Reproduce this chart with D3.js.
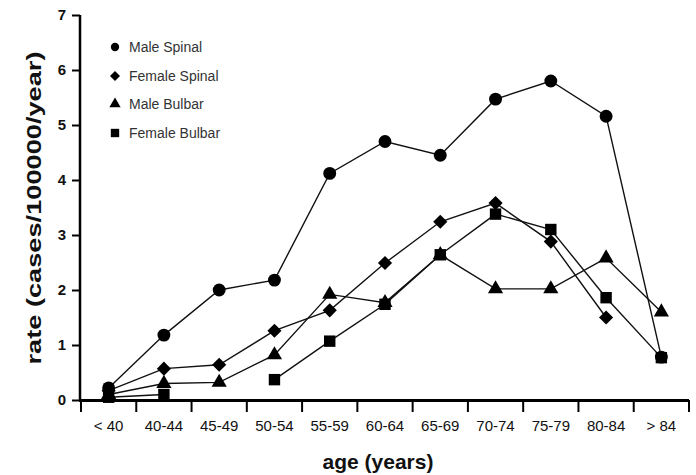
<!DOCTYPE html>
<html>
<head>
<meta charset="utf-8">
<script src="https://cdn.jsdelivr.net/npm/d3@7"></script>
<style>
  html, body { margin: 0; padding: 0; background: #fff; }
  svg { display: block; }
</style>
</head>
<body>
<svg id="chart" width="696" height="475"></svg>
<script>
const categories = ["< 40", "40-44", "45-49", "50-54", "55-59", "60-64", "65-69", "70-74", "75-79", "80-84", "> 84"];
const maleSpinal   = [0.22, 1.18, 2.0, 2.18, 4.12, 4.7, 4.45, 5.47, 5.8, 5.16, 0.78];
const femaleSpinal = [0.17, 0.57, 0.64, 1.26, 1.63, 2.49, 3.24, 3.58, 2.88, 1.5, null];
const maleBulbar   = [0.1, 0.3, 0.32, 0.82, 1.92, 1.77, 2.64, 2.02, 2.02, 2.58, 1.6];
const femaleBulbar = [0.05, 0.1, null, 0.37, 1.07, 1.74, 2.64, 3.38, 3.1, 1.86, 0.77];
const yTicks = [0, 1, 2, 3, 4, 5, 6, 7];
const seriesNames = ["Male Spinal", "Female Spinal", "Male Bulbar", "Female Bulbar"];

const series = [
  { name: seriesNames[0], values: maleSpinal,   symbol: d3.symbolCircle,   size: 130, lsize: 55, rot: 0 },
  { name: seriesNames[1], values: femaleSpinal, symbol: d3.symbolSquare,   size: 100, lsize: 50, rot: 45 },
  { name: seriesNames[2], values: maleBulbar,   symbol: d3.symbolTriangle, size: 100, lsize: 55, rot: 0 },
  { name: seriesNames[3], values: femaleBulbar, symbol: d3.symbolSquare,   size: 130, lsize: 70, rot: 0 }
];

const svg = d3.select("#chart");
const mLeft = 81, mRight = 689, mTop = 15, mBottom = 400;

const x = d3.scaleBand().domain(categories).range([mLeft, mRight]);
const y = d3.scaleLinear().domain([0, 7]).range([mBottom, mTop]);

// Y axis
const yAxis = d3.axisLeft(y).tickValues(yTicks).tickSize(8).tickPadding(6).tickFormat(d3.format("d"));
const gy = svg.append("g").attr("transform", `translate(${mLeft - 1},0)`).call(yAxis);
gy.select(".domain").attr("stroke", "#000").attr("stroke-width", 2.5).attr("d", `M0,${mTop}V${mBottom + 1}`);
gy.selectAll(".tick line").attr("stroke", "#000").attr("stroke-width", 2);
gy.selectAll(".tick text").attr("font-family", "Liberation Sans, Arial, sans-serif")
  .attr("font-size", 15).attr("font-weight", "bold").attr("fill", "#111");

// X axis: ticks at band boundaries
const gx = svg.append("g").attr("transform", `translate(0,${mBottom})`);
gx.append("line").attr("x1", mLeft - 2).attr("x2", mRight).attr("y1", 0.5).attr("y2", 0.5)
  .attr("stroke", "#000").attr("stroke-width", 3);
const bounds = categories.map(c => x(c)).concat([mRight]);
gx.selectAll("line.tk").data(bounds).join("line").attr("class", "tk")
  .attr("x1", d => d).attr("x2", d => d).attr("y1", 0).attr("y2", 12)
  .attr("stroke", "#000").attr("stroke-width", 2);
gx.selectAll("text.lbl").data(categories).join("text").attr("class", "lbl")
  .attr("x", d => x(d) + x.bandwidth() / 2).attr("y", 31)
  .attr("text-anchor", "middle")
  .attr("font-family", "Liberation Sans, Arial, sans-serif").attr("font-size", 15).attr("fill", "#111")
  .text(d => d);

// Axis titles
svg.append("text").attr("x", 378).attr("y", 469).attr("text-anchor", "middle")
  .attr("font-family", "Liberation Sans, Arial, sans-serif").attr("font-size", 21).attr("font-weight", "bold")
  .attr("fill", "#111").text("age (years)");
svg.append("text").attr("transform", "translate(41,208) rotate(-90)").attr("text-anchor", "middle")
  .attr("font-family", "Liberation Sans, Arial, sans-serif").attr("font-size", 21).attr("font-weight", "bold")
  .attr("textLength", 313).attr("lengthAdjust", "spacingAndGlyphs")
  .attr("fill", "#111").text("rate (cases/100000/year)");

// Lines and markers
const cx = i => x(categories[i]) + x.bandwidth() / 2;
const line = d3.line().defined(d => d != null).x((d, i) => cx(i)).y(d => y(d));

series.forEach(s => {
  svg.append("path").datum(s.values).attr("d", line)
    .attr("fill", "none").attr("stroke", "#111").attr("stroke-width", 1.4);
});
series.forEach(s => {
  const sym = d3.symbol().type(s.symbol).size(s.size);
  svg.append("g").selectAll("path").data(s.values.map((v, i) => ({ v, i })).filter(d => d.v != null))
    .join("path")
    .attr("transform", d => `translate(${cx(d.i)},${y(d.v)}) rotate(${s.rot})`)
    .attr("d", sym).attr("fill", "#000");
});

// Legend
const legendY = [47, 76, 104, 133];
series.forEach((s, k) => {
  const g = svg.append("g").attr("transform", `translate(115,${legendY[k]})`);
  g.append("path").attr("d", d3.symbol().type(s.symbol).size(s.lsize))
    .attr("transform", `rotate(${s.rot})`).attr("fill", "#000");
  g.append("text").attr("x", 14).attr("y", 5)
    .attr("font-family", "Liberation Sans, Arial, sans-serif").attr("font-size", 14).attr("fill", "#333")
    .text(s.name);
});
</script>
</body>
</html>
